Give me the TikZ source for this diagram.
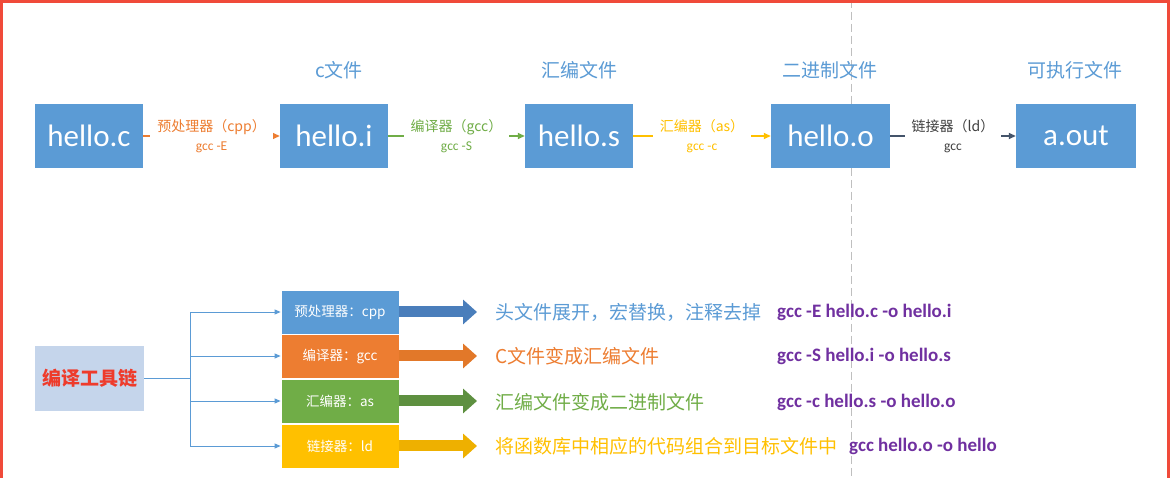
\documentclass[tikz,border=0pt]{standalone}
\usepackage{fontspec}
\setmainfont{Carlito}
\newfontfamily\cjk{Noto Sans CJK SC}
\usetikzlibrary{arrows.meta}
\definecolor{boxblue}{HTML}{5B9BD5}
\definecolor{cOrange}{HTML}{ED7D31}
\definecolor{cGreen}{HTML}{70AD47}
\definecolor{cGold}{HTML}{FFC000}
\definecolor{cSlate}{HTML}{44546A}
\definecolor{cPurple}{HTML}{7030A0}
\definecolor{cRed}{HTML}{EE3B2B}
\definecolor{frameRed}{HTML}{F04A3A}
\definecolor{chainFill}{HTML}{C5D5EB}
\definecolor{aBlue}{HTML}{4A7EBB}
\definecolor{aOrange}{HTML}{E27829}
\definecolor{aGreen}{HTML}{5E9040}
\definecolor{aGold}{HTML}{EEB000}
\tikzset{
  filebox/.style={fill=boxblue, text=white, inner sep=0pt, minimum height=64pt,
    font=\fontsize{31}{34}\selectfont},
  toplab/.style={text=boxblue, font=\cjk\fontsize{19}{22}\selectfont, inner sep=0pt},
  conn/.style={line width=1.6pt, -{Triangle[length=7pt,width=6pt]}},
  clab/.style={fill=white, inner xsep=7pt, inner ysep=1pt, align=center,
    font=\fontsize{13.5}{19}\selectfont},
  toolbox/.style={inner sep=0pt, minimum width=118pt, minimum height=44pt, text=white,
    draw=white, line width=0.8pt, font=\cjk\fontsize{13.5}{16}\selectfont},
  branch/.style={draw=boxblue, line width=0.9pt},
  barrow/.style={line width=11pt, -{Triangle[length=14pt,width=24pt]}},
  desc/.style={anchor=west, inner sep=0pt, font=\cjk\fontsize{19}{22}\selectfont},
  cmd/.style={anchor=west, inner sep=0pt, text=cPurple, font=\bfseries\fontsize{19}{22}\selectfont},
}
\newcommand{\cl}[1]{{\cjk\fontsize{14}{19}\selectfont #1}}
\begin{document}
\begin{tikzpicture}[x=1pt,y=-1pt]
\useasboundingbox (0,0) rectangle (1171,478);
\fill[white] (0,0) rectangle (1171,478);
% dashed guide
\coordinate (dtop) at (851,0);
\coordinate (dbot) at (851,478);
\draw[black!25, line width=1pt, dash pattern=on 8pt off 4pt] (dtop) -- (dbot);
% frame
\draw[frameRed, line width=3pt] (1.5,478) -- (1.5,1.5) -- (1168.5,1.5) -- (1168.5,478);

% top row
\node[filebox, minimum width=108pt] (hc) at (89,136) {hello.c};
\node[filebox, minimum width=108pt] (hi) at (334,136) {hello.i};
\node[filebox, minimum width=108pt] (hs) at (579,136) {hello.s};
\node[filebox, minimum width=119pt] (ho) at (830.5,136) {hello.o};
\node[filebox, minimum width=120pt] (ao) at (1076,136) {a.out};

\node[toplab] (li) at (339,70) {c文件};
\node[toplab] (ls) at (579,70) {汇编文件};
\node[toplab] (lo) at (830,70) {二进制文件};
\node[toplab] (la) at (1075,70) {可执行文件};

\draw[conn, cOrange] (hc) -- node[clab, text=cOrange] {\cl{预处理器（cpp）}\\gcc -E} (hi);
\draw[conn, cGreen] (hi) -- node[clab, text=cGreen] {\cl{编译器（gcc）}\\gcc -S} (hs);
\draw[conn, cGold] (hs) -- node[clab, text=cGold] {\cl{汇编器（as）}\\gcc -c} (ho);
\draw[conn, cSlate] (ho) -- node[clab, text=black!75] {\cl{链接器（ld）}\\gcc} (ao);

% bottom: tool chain
\node[fill=chainFill, minimum width=109pt, minimum height=65pt, inner sep=0pt,
  text=cRed, font=\cjk\bfseries\fontsize{19}{22}\selectfont] (chain) at (89.5,378.5) {编译工具链};

\node[toolbox, fill=boxblue] (t1) at (340,312) {预处理器：cpp};
\node[toolbox, fill=cOrange] (t2) at (340,356) {编译器：gcc};
\node[toolbox, fill=cGreen] (t3) at (340,401) {汇编器：as};
\node[toolbox, fill=cGold] (t4) at (340,446) {链接器：ld};

\coordinate (j) at (190,378.5);
\draw[branch] (chain.east) -- (j);
\foreach \t in {t1,t2,t3,t4}
  \draw[branch, -{Triangle[length=6pt,width=5pt]}] (j) |- (\t.west);

\node[desc, text=boxblue] (d1) at (495,312) {头文件展开，宏替换，注释去掉};
\node[desc, text=cOrange] (d2) at (495,356) {C文件变成汇编文件};
\node[desc, text=cGreen] (d3) at (495,402) {汇编文件变成二进制文件};
\node[desc, text=cGold] (d4) at (495,446) {将函数库中相应的代码组合到目标文件中};

\draw[barrow, aBlue] (t1.east) -- ([xshift=-18pt]d1.west|-t1.east);
\draw[barrow, aOrange] (t2.east) -- ([xshift=-18pt]d2.west|-t2.east);
\draw[barrow, aGreen] (t3.east) -- ([xshift=-18pt]d3.west|-t3.east);
\draw[barrow, aGold] (t4.east) -- ([xshift=-18pt]d4.west|-t4.east);

\node[cmd] (c1) at (777,312) {gcc -E hello.c -o hello.i};
\node[cmd] (c2) at (777,356) {gcc -S hello.i -o hello.s};
\node[cmd] (c3) at (777,402) {gcc -c hello.s -o hello.o};
\node[cmd] (c4) at (849,446) {gcc hello.o -o hello};
\end{tikzpicture}
\end{document}
